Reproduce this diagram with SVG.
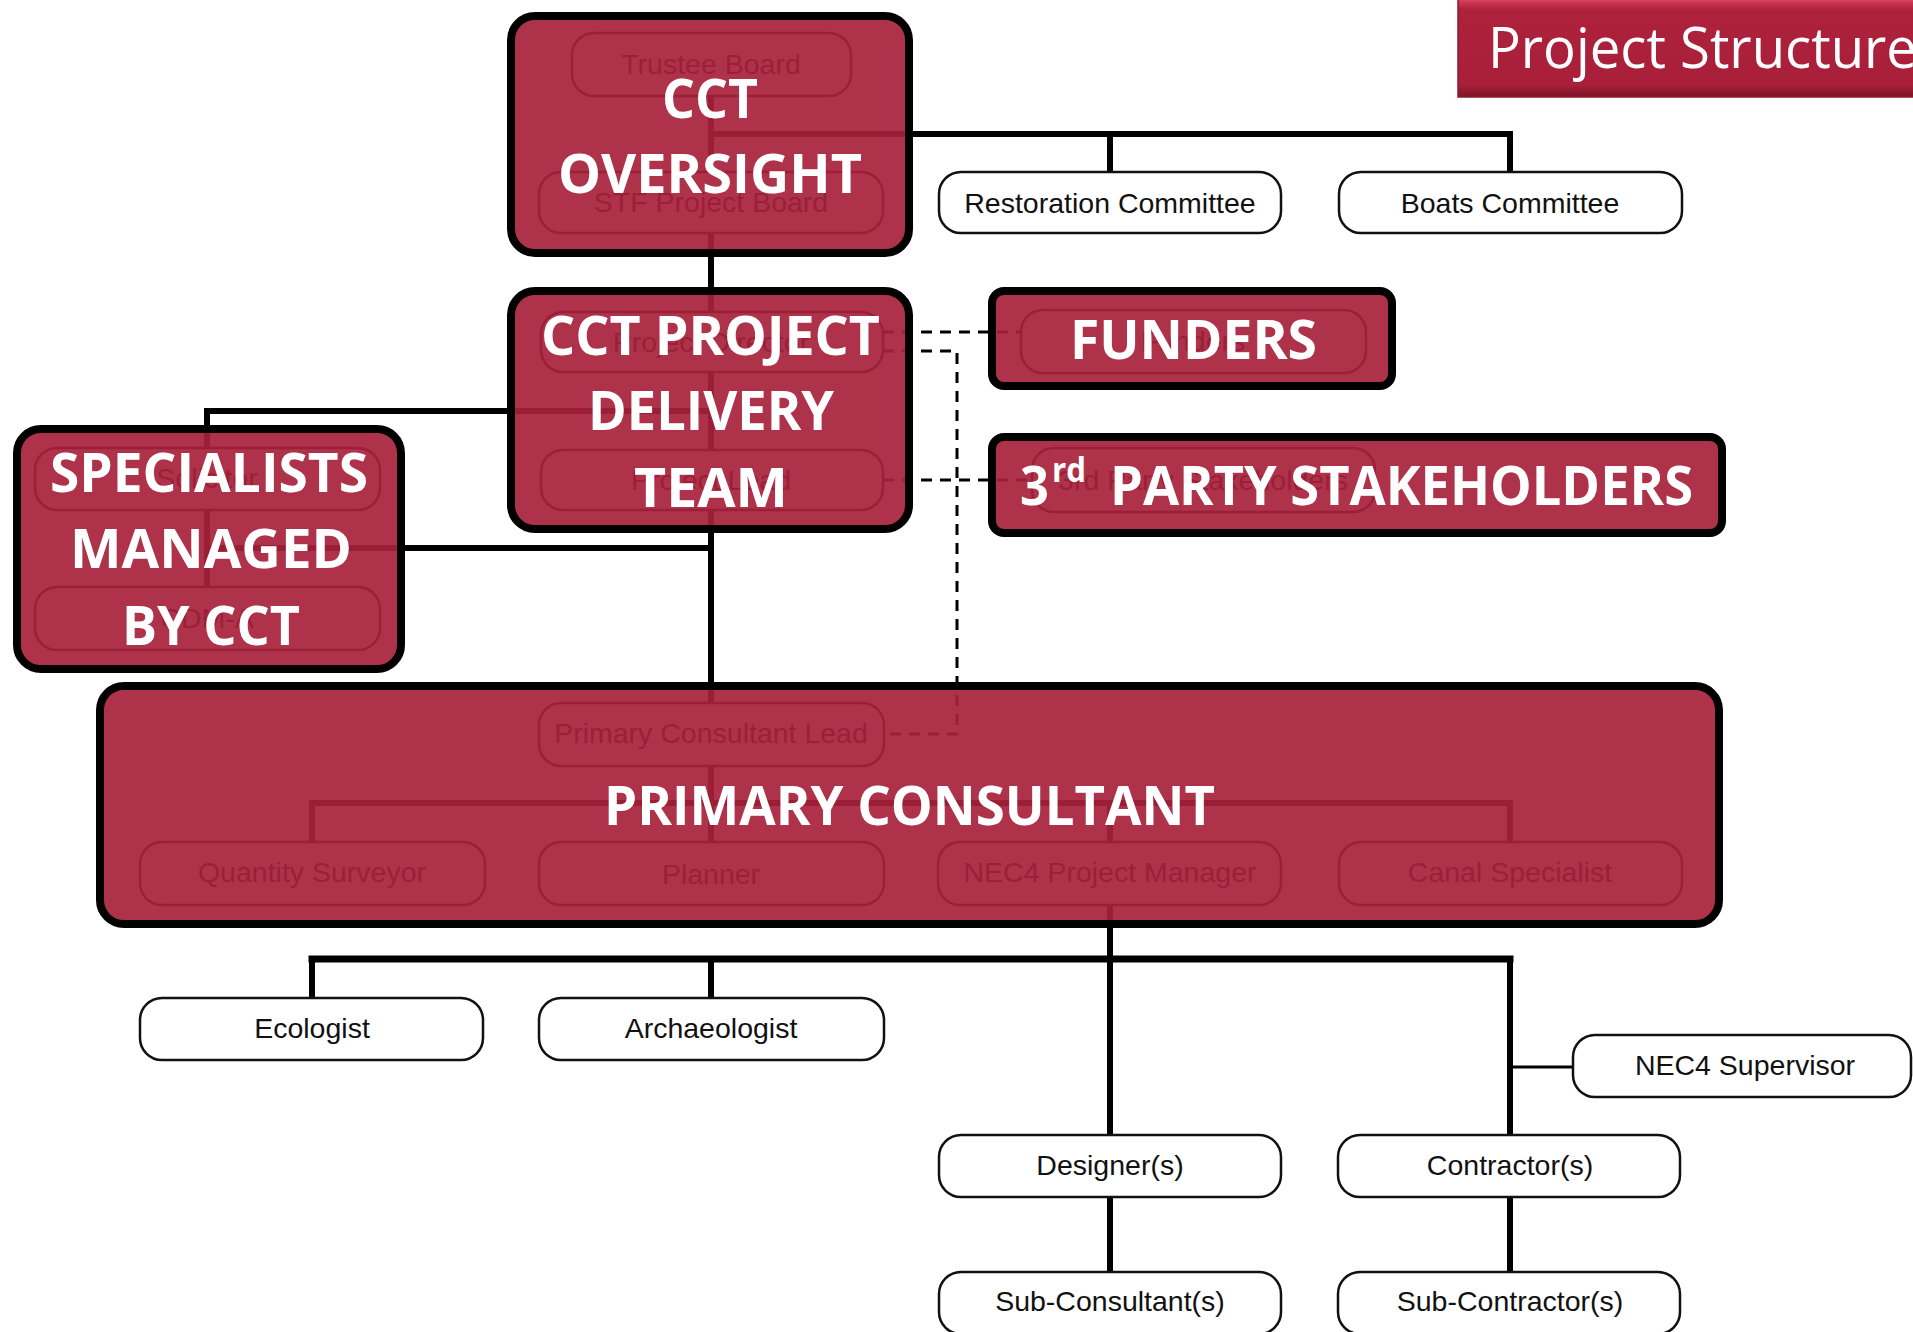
<svg xmlns="http://www.w3.org/2000/svg" width="1913" height="1332" viewBox="0 0 1913 1332">
<defs>
<linearGradient id="bannerG" x1="0" y1="0" x2="0" y2="1">
<stop offset="0" stop-color="#e45a73"/>
<stop offset="0.07" stop-color="#c8344e"/>
<stop offset="0.14" stop-color="#ad213b"/>
<stop offset="0.88" stop-color="#a91f39"/>
<stop offset="1" stop-color="#7c1428"/>
</linearGradient>
</defs>
<style>
.box{fill:#fff;stroke:#111;stroke-width:2.5}
.lbl{font-family:"Liberation Sans",Arial,sans-serif;font-size:28.5px;fill:#111;text-anchor:middle}
.ln{stroke:#000;stroke-width:6;fill:none;stroke-linecap:square}
.thin{stroke:#000;stroke-width:3;fill:none}
.dash{stroke:#000;stroke-width:3;fill:none;stroke-dasharray:11 8}
.ov{fill:#a6213b;fill-opacity:0.92;stroke:#000;stroke-width:8}
.big{font-family:"Open Sans","Liberation Sans",sans-serif;font-weight:700;font-size:54px;fill:#fff;text-anchor:start}
</style>
<rect width="1913" height="1332" fill="#fff"/>

<g id="connectors">
<path class="ln" d="M711 96V172M711 134H1510M1110 134V172M1510 134V172"/>
<path class="ln" d="M711 233V312M711 372V450"/>
<path class="ln" d="M711 411H207V448M207 510V587M207 548H711"/>
<path class="ln" d="M711 510V703"/>
<path class="dash" d="M883 332H1021"/>
<path class="dash" d="M883 351H957V734H884"/>
<path class="dash" d="M883 480H1032"/>
<path class="ln" d="M711 766V842M312 803H1510M312 803V842M1110 803V842M1510 803V842"/>
<path class="ln" d="M1110 905V1135M1510 959V1135M312 959V998M711 959V998"/>
<path class="ln" d="M312 959H1510" style="stroke-width:7"/>
<path class="thin" d="M1510 1067H1573"/>
<path class="ln" d="M1110 1197V1272M1510 1197V1272"/>
</g>

<g id="trustee-board"><rect class="box" x="572" y="33" width="279" height="63" rx="22"/><text class="lbl" x="711" y="74">Trustee Board</text></g>
<g id="stf-project-board"><rect class="box" x="539" y="172" width="344" height="61" rx="22"/><text class="lbl" x="711" y="212">STF Project Board</text></g>
<g id="restoration-committee"><rect class="box" x="939" y="172" width="342" height="61" rx="22"/><text class="lbl" x="1110" y="213">Restoration Committee</text></g>
<g id="boats-committee"><rect class="box" x="1339" y="172" width="343" height="61" rx="22"/><text class="lbl" x="1510" y="213">Boats Committee</text></g>
<g id="project-director"><rect class="box" x="541" y="312" width="342" height="60" rx="22"/><text class="lbl" x="711" y="352">Project Director</text></g>
<g id="project-lead"><rect class="box" x="541" y="450" width="342" height="60" rx="22"/><text class="lbl" x="711" y="490">Project Lead</text></g>
<g id="solicitor"><rect class="box" x="35" y="448" width="345" height="62" rx="22"/><text class="lbl" x="207" y="488">Solicitor</text></g>
<g id="cdm-a"><rect class="box" x="35" y="587" width="345" height="63" rx="22"/><text class="lbl" x="207" y="628">CDM-A</text></g>
<g id="funders"><rect class="box" x="1021" y="310" width="345" height="63" rx="22"/><text class="lbl" x="1193" y="351">Funders</text></g>
<g id="third-party"><rect class="box" x="1032" y="448" width="343" height="64" rx="22"/><text class="lbl" x="1203" y="490">3rd Party Stakeholders</text></g>
<g id="primary-consultant-lead"><rect class="box" x="539" y="703" width="345" height="63" rx="22"/><text class="lbl" x="711" y="743">Primary Consultant Lead</text></g>
<g id="quantity-surveyor"><rect class="box" x="140" y="842" width="345" height="63" rx="22"/><text class="lbl" x="312" y="882">Quantity Surveyor</text></g>
<g id="planner"><rect class="box" x="539" y="842" width="345" height="63" rx="22"/><text class="lbl" x="711" y="884">Planner</text></g>
<g id="nec4-pm"><rect class="box" x="938" y="842" width="343" height="63" rx="22"/><text class="lbl" x="1110" y="882">NEC4 Project Manager</text></g>
<g id="canal-specialist"><rect class="box" x="1339" y="842" width="343" height="63" rx="22"/><text class="lbl" x="1510" y="882">Canal Specialist</text></g>
<g id="ecologist"><rect class="box" x="140" y="998" width="343" height="62" rx="22"/><text class="lbl" x="312" y="1038">Ecologist</text></g>
<g id="archaeologist"><rect class="box" x="539" y="998" width="345" height="62" rx="22"/><text class="lbl" x="711" y="1038">Archaeologist</text></g>
<g id="nec4-supervisor"><rect class="box" x="1573" y="1035" width="338" height="62" rx="22"/><text class="lbl" x="1745" y="1075">NEC4 Supervisor</text></g>
<g id="designers"><rect class="box" x="939" y="1135" width="342" height="62" rx="22"/><text class="lbl" x="1110" y="1175">Designer(s)</text></g>
<g id="contractors"><rect class="box" x="1338" y="1135" width="342" height="62" rx="22"/><text class="lbl" x="1510" y="1175">Contractor(s)</text></g>
<g id="sub-consultants"><rect class="box" x="939" y="1272" width="342" height="62" rx="22"/><text class="lbl" x="1110" y="1311">Sub-Consultant(s)</text></g>
<g id="sub-contractors"><rect class="box" x="1338" y="1272" width="342" height="62" rx="22"/><text class="lbl" x="1510" y="1311">Sub-Contractor(s)</text></g>

<g id="cct-oversight"><rect class="ov" x="511" y="16" width="398" height="237" rx="24"/>
<text class="big" x="662" y="118" textLength="96" lengthAdjust="spacingAndGlyphs">CCT</text>
<text class="big" x="558" y="193" textLength="304" lengthAdjust="spacingAndGlyphs">OVERSIGHT</text></g>
<g id="cct-project-delivery-team"><rect class="ov" x="511" y="291" width="398" height="238" rx="24"/>
<text class="big" x="541" y="355" textLength="339" lengthAdjust="spacingAndGlyphs">CCT PROJECT</text>
<text class="big" x="588" y="430" textLength="246" lengthAdjust="spacingAndGlyphs">DELIVERY</text>
<text class="big" x="634" y="507" textLength="154" lengthAdjust="spacingAndGlyphs">TEAM</text></g>
<g id="specialists"><rect class="ov" x="17" y="429" width="384" height="240" rx="24"/>
<text class="big" x="50" y="492" textLength="318" lengthAdjust="spacingAndGlyphs">SPECIALISTS</text>
<text class="big" x="70" y="568" textLength="282" lengthAdjust="spacingAndGlyphs">MANAGED</text>
<text class="big" x="122" y="645" textLength="178" lengthAdjust="spacingAndGlyphs">BY CCT</text></g>
<g id="funders-block"><rect class="ov" x="992" y="291" width="400" height="95" rx="12"/>
<text class="big" x="1070" y="359" textLength="247" lengthAdjust="spacingAndGlyphs">FUNDERS</text></g>
<g id="stakeholders-block"><rect class="ov" x="992" y="437" width="730" height="96" rx="12"/>
<text class="big" x="1020" y="505" textLength="29" lengthAdjust="spacingAndGlyphs">3</text>
<text class="big" x="1052" y="482" style="font-size:34px" textLength="34" lengthAdjust="spacingAndGlyphs">rd</text>
<text class="big" x="1110" y="505" textLength="583" lengthAdjust="spacingAndGlyphs">PARTY STAKEHOLDERS</text></g>
<g id="primary-consultant"><rect class="ov" x="100" y="686" width="1619" height="238" rx="24"/>
<text class="big" x="604" y="825" textLength="611" lengthAdjust="spacingAndGlyphs">PRIMARY CONSULTANT</text></g>

<g id="title-banner">
<rect x="1458" y="-4" width="470" height="101" fill="url(#bannerG)" stroke="#8a1a2e" stroke-width="1.5"/>
<text x="1488" y="68" font-family="'Open Sans','Liberation Sans',sans-serif" font-size="56" fill="#fff" textLength="429" lengthAdjust="spacingAndGlyphs">Project Structure</text>
</g>
</svg>
